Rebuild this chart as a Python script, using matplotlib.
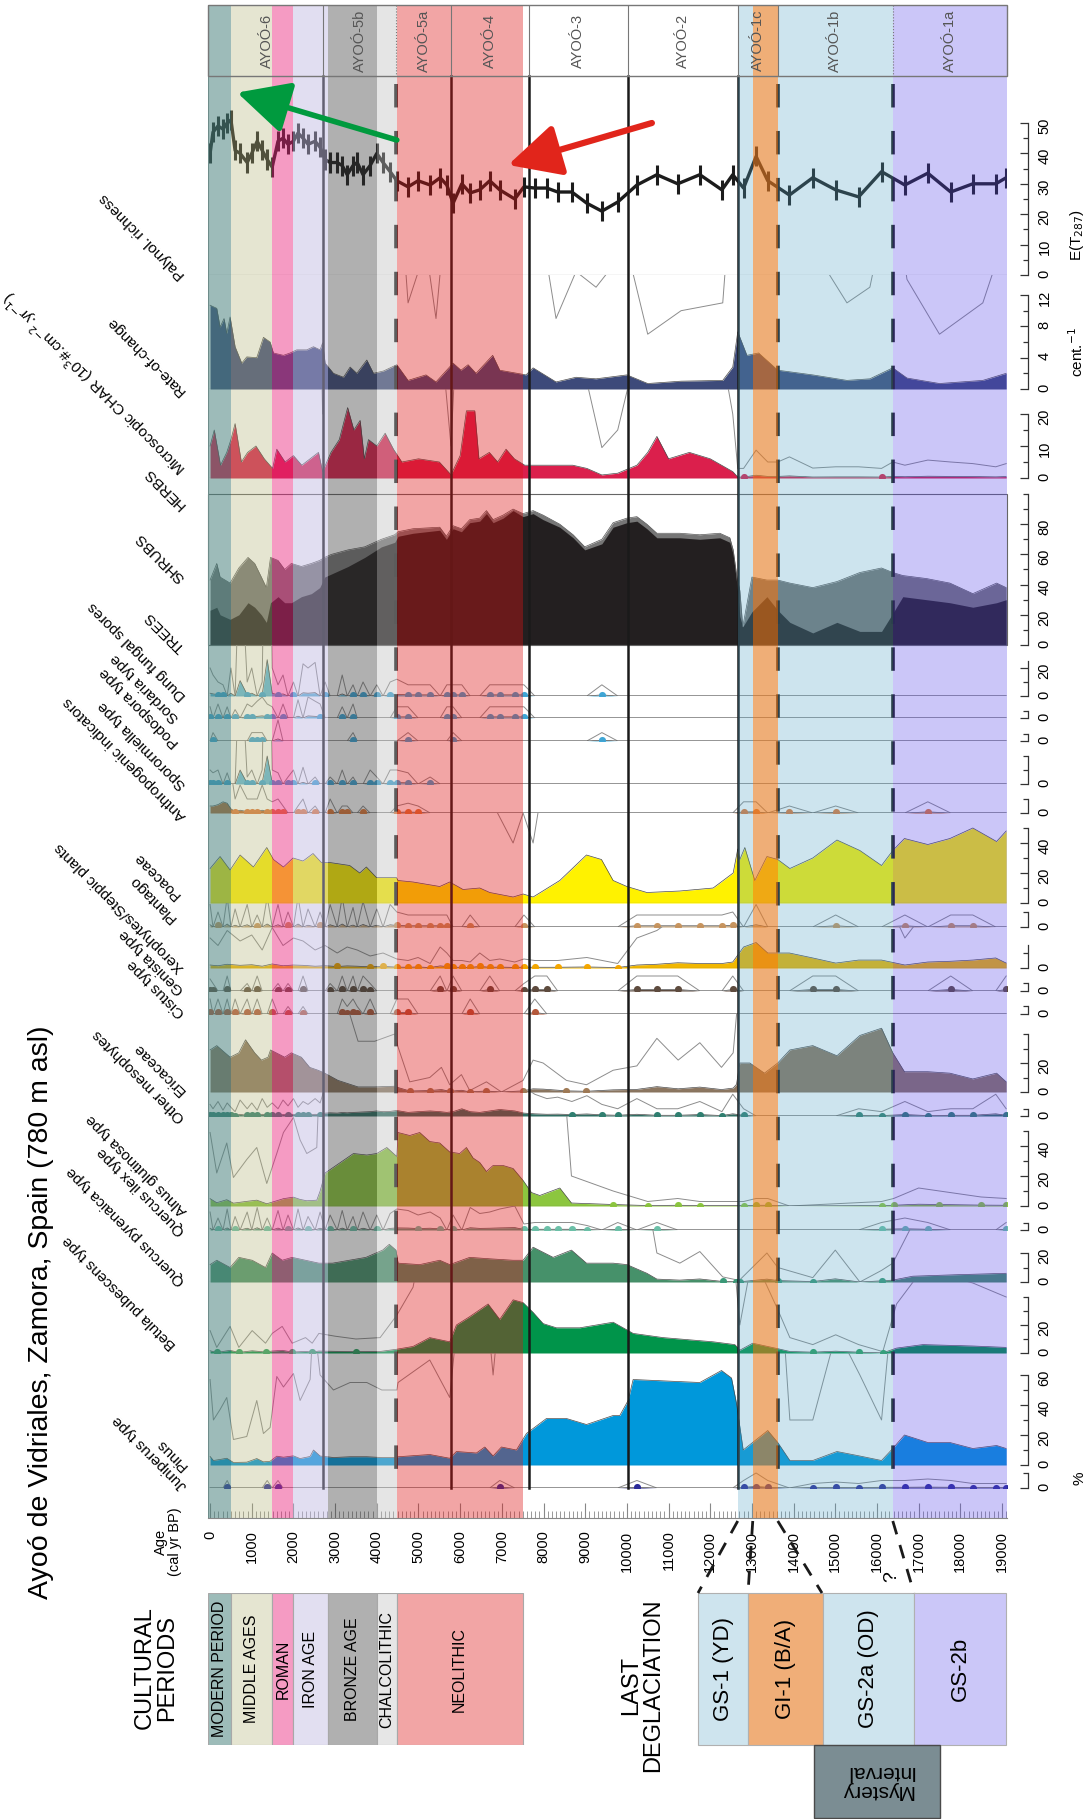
import numpy as np
import matplotlib
matplotlib.use('Agg')
import matplotlib.pyplot as plt
from matplotlib.patches import Rectangle

plt.rcParams['font.family'] = ['Liberation Sans', 'DejaVu Sans']
plt.rcParams['font.size'] = 10

# ---------------- data (ages in cal yr BP) ----------------
ages = np.array([0, 70, 190, 310, 410, 500, 600, 720, 890, 1000,
                 1130, 1250, 1370, 1490, 1630, 1750, 1870, 2000, 2110, 2230,
                 2350, 2520, 2640, 2760, 2880, 3050, 3170, 3290, 3430, 3530,
                 3670, 3840, 4000, 4150, 4320, 4480, 4750, 4990, 5280, 5520,
                 5680, 5830, 6040, 6240, 6470, 6710, 6950, 7310, 7530, 7790,
                 8080, 8340, 8680, 9040, 9400, 9780, 10240, 10720, 11220, 11750,
                 12280, 12540, 12800, 13100, 13380, 13900, 14460, 15010, 15560, 16110,
                 16670, 17220, 17770, 18300, 18850, 19100])
richness = [40, 47, 49, 48, 50, 51, 41, 40, 37, 40,
            44, 41, 38, 35.5, 44, 45, 43, 44, 46.7, 45,
            43, 44, 42, 38, 37, 37, 36, 33, 36, 37,
            33, 36, 40, 37, 34, 31, 29, 31, 29.6, 32,
            29.6, 23.6, 30, 27, 28, 31, 28, 25, 29, 28.6,
            28.6, 27.3, 27.3, 23.6, 21, 24, 29.6, 33, 30, 33,
            28, 33, 28.6, 39, 31, 26.3, 32, 28, 25.7, 34,
            29.6, 33.5, 27.3, 30, 30, 32]

roc_age = [0, 160, 240, 335, 400, 480, 600, 760, 880, 1120,
           1280, 1440, 1520, 1760, 1920, 2080, 2320, 2480, 2640, 2700,
           2760, 2960, 3200, 3360, 3520, 3760, 3920, 4160, 4480, 4750,
           5180, 5420, 5830, 6020, 6190, 6380, 6780, 6950, 7580, 7750,
           8300, 8780, 9260, 10000, 10500, 11300, 12300, 12540, 12660, 12880,
           13160, 13620, 14460, 15280, 15830, 16380, 16720, 17500, 18540, 19100]
roc = [10.7, 10.3, 7.9, 9.0, 7.1, 9.2, 5.4, 3.3, 4.1, 4.0,
       6.6, 6.0, 4.6, 4.3, 4.6, 5.0, 5.0, 5.4, 5.0, 5.9,
       3.3, 2.0, 1.5, 2.8, 2.0, 3.7, 2.0, 2.3, 3.1, 1.1,
       1.8, 0.9, 3.3, 2.4, 3.1, 2.0, 4.3, 2.4, 1.8, 2.7,
       0.9, 1.5, 1.3, 1.8, 0.7, 1.0, 1.1, 2.8, 7.3, 4.3,
       4.6, 2.4, 1.8, 1.1, 1.3, 2.7, 1.4, 0.7, 1.1, 2.0]

char_age = [0, 100, 250, 400, 500, 600, 750, 900, 1100, 1300,
            1500, 1600, 1800, 2000, 2200, 2400, 2600, 2700, 2900, 3100,
            3300, 3450, 3600, 3700, 3800, 4000, 4200, 4400, 4600, 5000,
            5500, 5780, 6000, 6150, 6350, 6450, 6700, 6900, 7100, 7300,
            7550, 8000, 8700, 9040, 9400, 9780, 10240, 10500, 10720, 11000,
            11500, 12000, 12540, 12660, 12800, 13100, 13380, 13620, 13900, 14460,
            15010, 15560, 16110, 16380, 16670, 17220, 17770, 18300, 18850, 19100]
char = [10, 15, 4, 8, 12, 17, 5, 8, 10, 6,
        3, 9, 5, 7, 4, 6, 8, 2, 8, 12,
        22, 15, 18, 6, 12, 10, 14, 9, 5, 6,
        5, 1, 7, 21, 21, 6, 8, 5, 9, 6,
        4, 4, 4, 3, 0.95, 1.5, 4, 8, 13, 6,
        8, 6, 2, 0.3, 0.3, 0.87, 0.5, 0.5, 0.66, 0.31,
        0.35, 0.35, 0.3, 0.5, 0.4, 0.56, 0.5, 0.45, 0.35, 0.45]

veg_age = [0, 160, 240, 480, 690, 910, 1070, 1230, 1350, 1450,
           1630, 1790, 1950, 2190, 2430, 2630, 2750, 2910, 3310, 3710,
           4110, 4430, 4510, 4870, 5510, 5670, 5830, 6030, 6230, 6470,
           6630, 6790, 7030, 7270, 7510, 7750, 7990, 8390, 8710, 8990,
           9400, 9670, 10000, 10240, 10480, 10720, 11270, 11750, 12230, 12470,
           12550, 12640, 12710, 12780, 13000, 13360, 13620, 13910, 14460, 15040,
           15590, 16110, 16380, 16620, 17190, 17750, 18300, 18870, 19100]
trees = [23, 25, 20, 17, 20, 28, 25, 20, 15, 28,
         32, 28, 28, 32, 34, 38, 45, 47, 52, 58,
         65, 68, 72, 74, 76, 70, 77, 75, 81, 82,
         87, 81, 84, 89, 85, 87, 83, 78, 71, 63,
         67, 78, 81, 82, 77, 71, 71, 70, 71, 68,
         60, 40, 19, 12, 22, 32, 23, 15, 8, 15,
         9, 9, 21, 32, 30, 28, 25, 28, 30]
trees_shrubs = [43, 54, 45, 41, 51, 58, 54, 45, 38, 58,
                56, 50, 54, 52, 54, 56, 58, 60, 63, 65,
                70, 73, 75, 77, 78, 72, 79, 77, 83, 84,
                89, 83, 86, 90, 87, 89, 86, 80, 73, 65,
                70, 81, 84, 85, 80, 74, 74, 73, 74, 71,
                63, 45, 36, 12, 45, 43, 43, 41, 38, 42,
                48, 51, 48, 46, 44, 41, 34, 41, 38]

dung_age = [0, 70, 190, 310, 500, 720, 890, 1000, 1250, 1370,
            1490, 1630, 1750, 2000, 2230, 2350, 2520, 2760, 3170, 3430,
            3670, 4000, 4320, 4480, 4750, 4990, 5280, 5680, 5830, 6040,
            6710, 6950, 7310, 7530, 9400]
dung = [2, 1.5, 1, 0.8, 2, 11, 1, 2, 1, 26,
        2, 0.8, 1.5, 1, 2.3, 2.0, 2.4, 1, 1.5, 0.8,
        1, 0.8, 1, 1.2, 0.8, 0.8, 0.8, 0.8, 0.8, 0.8,
        0.8, 0.8, 0.8, 0.8, 0.8]
sordaria_age = [0, 190, 410, 600, 890, 1000, 1130, 1250, 1370, 1490,
                1750, 2110, 2350, 2520, 2640, 3170, 3430, 4480, 4750, 5680,
                5830, 6710, 6950, 7310, 7530]
sordaria = [0.8, 1, 0.8, 0.6, 1, 0.8, 1.2, 1.5, 1, 0.8,
            1, 1.3, 1.5, 1.2, 1, 0.8, 1, 0.8, 0.8, 0.8,
            0.8, 0.8, 0.8, 0.8, 0.8]
podospora_age = [70, 1000, 1130, 1250, 1630, 3430, 4750, 5830, 9400]
podospora = [0.6, 0.6, 0.6, 0.6, 1.5, 0.6, 0.6, 0.6, 0.6]
sporormiella_age = [0, 70, 190, 410, 720, 890, 1000, 1250, 1370, 1490,
                    1630, 1870, 2000, 2230, 2520, 2880, 3170, 3430, 3840, 4000,
                    4320, 4480, 4750, 5280]
sporormiella = [1, 0.8, 1, 0.8, 10, 0.5, 1, 1, 20, 1,
                0.8, 0.5, 1, 1.2, 0.5, 0.5, 1, 0.5, 1, 0.5,
                1, 1, 0.8, 0.5]
anthro_age = [0, 70, 190, 310, 410, 500, 600, 720, 890, 1000,
              1130, 1250, 1370, 1490, 1630, 1750, 2110, 2230, 2520, 2880,
              3170, 3290, 3670, 4480, 4750, 4990, 12800, 13100, 13900, 15010,
              17220]
anthro = [5, 5, 6, 8, 7, 3, 1, 2, 1, 1,
          1, 2, 1, 0.8, 1, 0.5, 0.5, 1, 0.5, 1,
          0.5, 0.5, 0.5, 0.5, 0.7, 0.5, 0.8, 0.8, 0.5, 0.5,
          0.8]

poaceae_age = [0, 240, 480, 720, 1040, 1360, 1520, 1760, 1990, 2230,
               2470, 2670, 2870, 3350, 3590, 3750, 3990, 4470, 4510, 4870,
               5510, 5750, 6070, 6470, 6710, 7270, 7510, 7750, 8390, 9030,
               9390, 9670, 10000, 10480, 11270, 12070, 12550, 12660, 12710, 12830,
               13070, 13360, 13620, 13910, 14460, 15040, 15590, 16110, 16380, 16660,
               17220, 17750, 18300, 18870, 19100]
poaceae = [23, 31, 22, 32, 24, 37, 29, 24, 30, 28,
           33, 27, 27, 25, 20, 24, 17, 17, 15, 14,
           11, 14, 9, 10, 7, 4, 6, 4, 15, 32,
           29, 15, 11, 7, 8, 10, 20, 36, 29, 37,
           15, 31, 29, 23, 30, 42, 35, 25, 35, 43,
           39, 43, 50, 41, 48]
plantago_age = [0, 190, 410, 600, 890, 1130, 1370, 1630, 1870, 2110,
                2350, 2640, 2880, 3170, 3430, 3670, 4000, 4320, 4480, 4750,
                4990, 5280, 5520, 5680, 6240, 7530, 10240, 10720, 11220, 11750,
                12280, 12540, 13100, 15010, 16670, 17770, 18300]
plantago = [1.5, 1, 2, 1.2, 1.5, 0.8, 2, 1.5, 1, 2,
            1.2, 1, 1.5, 2, 1.3, 1.7, 1.2, 1.5, 1, 0.8,
            0.8, 0.8, 0.8, 0.8, 0.8, 0.8, 0.8, 0.8, 0.8, 0.8,
            0.8, 1.0, 1.5, 0.8, 0.8, 0.8, 0.8]
xero_age = [0, 190, 410, 720, 1000, 1250, 1490, 1750, 2000, 2230,
            2520, 2760, 3050, 3290, 3530, 3840, 4150, 4480, 4750, 4990,
            5280, 5520, 5680, 5830, 6040, 6240, 6470, 6710, 6950, 7310,
            7530, 7790, 8340, 9040, 9780, 10240, 10720, 11220, 11750, 12280,
            12540, 12800, 13100, 13380, 13900, 14460, 15010, 15560, 16110, 16670,
            17220, 17770, 18300, 18850, 19100]
xero = [2.0, 1.5, 2.5, 1.8, 2.2, 1.2, 2.7, 1.5, 2.0, 1.8,
        1.2, 1.5, 1.0, 1.4, 1.2, 0.8, 1.0, 0.6, 0.5, 0.7,
        0.3, 1.4, 1.0, 0.5, 0.5, 0.4, 1.0, 0.5, 0.6, 0.4,
        0.6, 0.5, 0.5, 0.7, 0.3, 2, 2.5, 3.5, 3, 3,
        4, 14, 17, 10, 10, 6.7, 3.3, 5.3, 5.3, 2,
        4, 4.5, 5.3, 6.7, 3.3]
genista_age = [0, 70, 410, 890, 1130, 1630, 1870, 2230, 2880, 3170,
               3430, 3670, 3840, 5520, 5830, 6710, 7530, 7790, 8080, 10240,
               10720, 11220, 12540, 14460, 15010, 17770, 19100]
genista = [0.8, 0.5, 1, 0.5, 1, 0.5, 0.5, 1, 0.5, 1,
           1, 1, 0.5, 1, 1, 1, 0.5, 1, 1, 1,
           1, 1, 1, 1, 1, 1, 1]
cistus_age = [0, 190, 410, 600, 890, 1130, 1490, 1870, 2230, 3170,
              3290, 3430, 3530, 3840, 4480, 4750, 6240, 7790]
cistus = [1, 1, 1, 1, 1, 1, 1, 0.5, 0.5, 1,
          0.5, 1, 0.5, 1, 1, 1, 1, 1]

erica_age = [0, 160, 480, 690, 850, 1070, 1230, 1390, 1450, 1790,
             1950, 2190, 2390, 2590, 2750, 3070, 3550, 3950, 4430, 4510,
             4790, 5270, 5550, 5750, 6030, 6230, 6630, 6990, 7510, 7750,
             7990, 8550, 9030, 9670, 10240, 10720, 11230, 11750, 12270, 12550,
             12630, 12710, 12950, 13300, 13620, 13910, 14460, 15040, 15590, 16110,
             16380, 16660, 17220, 17750, 18300, 18870, 19100]
erica = [29, 32, 24, 27, 36, 27, 22, 24, 29, 24,
         27, 24, 17, 15, 13, 8, 3.5, 3.5, 4, 3.1,
         0.7, 1.0, 1.7, 0.5, 1.2, 0.1, 0.7, 0, 0.8, 2.2,
         2.0, 0.8, 0.5, 1.5, 1.8, 3.7, 2.2, 3.4, 1.7, 2.7,
         5.3, 20, 20, 13, 20, 29, 32, 25, 39, 44,
         27, 14, 14, 13, 9, 13, 7]
meso_age = [0, 70, 190, 310, 410, 500, 600, 720, 890, 1000,
            1130, 1250, 1370, 1490, 1630, 1750, 1870, 2000, 2110, 2230,
            2350, 2520, 2640, 2760, 2880, 3050, 3170, 3290, 3430, 3530,
            3670, 3840, 4000, 4150, 4320, 4480, 4750, 4990, 5280, 5520,
            5680, 5830, 6040, 6240, 6470, 6710, 6950, 7310, 7530, 7790,
            8080, 8340, 8680, 9040, 9400, 9780, 10240, 10720, 11220, 11750,
            12280, 12540, 12800, 15560, 16110, 16670, 17220, 17770, 18300, 18850,
            19100]
meso = [0.8, 0.5, 1.0, 0.4, 0.9, 0.6, 0.3, 1.1, 0.5, 0.9,
        0.4, 1.2, 0.6, 0.9, 0.5, 1.1, 0.7, 1.2, 0.6, 1.0,
        0.8, 1.2, 0.9, 2.0, 2.2, 2.0, 2.4, 2.2, 2.5, 2.6,
        2.8, 3.0, 3.5, 3.0, 3.2, 3.8, 2.5, 3.0, 3.5, 3.0,
        2.5, 3.0, 5.0, 3.0, 2.5, 3.5, 4.5, 3.5, 2.0, 1.5,
        1.2, 1.3, 1.0, 1.4, 0.8, 0.5, 1.2, 0.5, 0.5, 1.0,
        0.3, 1.5, 0.5, 0.5, 0.3, 1.0, 0.3, 0.5, 0.5, 1.5,
        0.5]
alnus_age = [0, 160, 400, 560, 880, 1120, 1360, 1600, 1760, 2000,
             2160, 2320, 2560, 2640, 2760, 3440, 3760, 4000, 4240, 4480,
             4510, 4790, 5030, 5270, 5510, 5750, 5990, 6150, 6310, 6470,
             6630, 6790, 7030, 7270, 7510, 7710, 7910, 8390, 8670, 9670,
             10500, 11220, 11750, 12800, 13100, 13380, 13900, 16110, 16400, 17000,
             17500, 18500, 19100]
alnus = [4.9, 2.2, 4.2, 1.9, 3.1, 3.9, 1.5, 3.5, 4.9, 5.9,
         4.4, 3.5, 3.9, 10, 22, 35, 34, 35, 39, 33,
         49, 47, 49, 43, 42, 36, 35, 39, 32, 29,
         23, 27, 27, 25, 17, 9, 7, 12, 2, 1,
         0.3, 0.5, 0.3, 0.3, 0.5, 0.5, 0, 0.3, 0.5, 1.2,
         1.0, 0.6, 0.5]
qilex_age = [0, 190, 410, 600, 890, 1130, 1370, 1630, 1870, 2110,
             2350, 2640, 2880, 3170, 3430, 3670, 4000, 4320, 4480, 4750,
             4990, 5280, 5520, 5830, 6240, 6470, 6710, 6950, 7310, 7530,
             7790, 8080, 8340, 8680, 9040, 9780, 10720, 16110, 16670, 17220,
             19100]
qilex = [1.2, 0.8, 1.4, 0.9, 1.2, 1.5, 0.8, 1.3, 1.0, 1.4,
         0.9, 1.2, 1.0, 1.3, 0.9, 1.2, 1.0, 1.1, 1.4, 1.3,
         1.0, 1.2, 0.8, 1.0, 1.5, 1.1, 1.2, 1.4, 1.6, 0.4,
         0.5, 0.5, 0.5, 0.5, 0.3, 0.5, 0.5, 0.5, 0.8, 0.5,
         0.5]
qpyr_age = [0, 160, 480, 690, 1010, 1330, 1490, 1730, 1970, 2290,
            2610, 2940, 3340, 3740, 4140, 4300, 4460, 4510, 5030, 5510,
            5750, 6230, 6710, 7270, 7510, 7750, 8230, 8670, 9030, 9670,
            10000, 10480, 10720, 11270, 11750, 12300, 12630, 12710, 13360, 13620,
            14460, 15000, 15590, 16110, 16380, 16860, 17880, 19100]
qpyr = [12, 15, 10, 17, 15, 10, 20, 15, 17, 15,
        13, 13, 15, 17, 22, 26, 22, 13, 12, 15,
        12, 17, 16, 15, 15, 24, 17, 22, 13, 13,
        12, 6, 2.0, 1.3, 2.1, 0.35, 0.15, 0.15, 2.0, 1.0,
        0.3, 2.2, 0, 0.8, 1.3, 4, 5, 6]
betula_age = [0, 160, 480, 690, 1010, 1330, 1490, 1730, 1970, 2290,
              2450, 2610, 3000, 3500, 4080, 4480, 4870, 5270, 5750, 5910,
              6230, 6670, 6950, 7270, 7510, 7750, 7990, 8310, 8870, 9670,
              10150, 10870, 12070, 12590, 12710, 13020, 13620, 13910, 14460, 15010,
              15560, 16140, 16470, 17100, 18300, 19100]
betula = [1.6, 0.4, 1.9, 0.4, 1.6, 0.7, 1.4, 1.9, 0.7, 1.1,
          0.7, 1.4, 1.2, 1.0, 1.1, 2.7, 4.7, 11, 8, 20,
          26, 35, 24, 38, 36, 29, 21, 18, 18, 22,
          14, 11, 8, 6, 2, 7, 3.1, 1.1, 0.6, 1.3,
          0.6, 0.1, 3.5, 6, 5, 4]
pinus_age = [0, 80, 240, 400, 560, 880, 1120, 1280, 1440, 1600,
             1760, 2000, 2160, 2400, 2480, 2640, 2960, 3360, 3760, 4120,
             4480, 4510, 5270, 5750, 5910, 6390, 6590, 6790, 6990, 7350,
             7590, 8070, 8550, 9030, 9670, 9830, 10030, 10150, 10950, 11750,
             12270, 12510, 12630, 12790, 13380, 13620, 13910, 14460, 15040, 15590,
             16110, 16380, 16660, 17220, 17750, 18300, 18870, 19100]
pinus = [5.7, 3.0, 3.7, 4.5, 1.7, 1.9, 4.3, 2.1, 2.5, 5.9,
         5.2, 6.1, 4.3, 5.7, 10, 6, 5, 5.5, 5.5, 5,
         5, 5.5, 7, 4.5, 9, 8, 12, 6, 12, 10,
         21, 31, 31, 27, 33, 33, 43, 57, 56, 55,
         63, 58, 41, 10, 23, 15, 3, 3, 9, 6,
         3, 11, 20, 15, 15, 11, 13, 11]
juniperus_age = [410, 1370, 1630, 6950, 10240, 12800, 13100, 13380, 14460, 15010,
                 15560, 16110, 16670, 17220, 17770, 18300, 18850, 19100]
juniperus = [0.5, 0.5, 0.5, 0.5, 0.5, 0.5, 1.0, 0.5, 0.3, 0.4,
             0.3, 0.5, 0.5, 0.6, 0.5, 0.3, 0.3, 0.3]

# cultural periods and late-glacial events
periods = ['MODERN PERIOD', 'MIDDLE AGES', 'ROMAN', 'IRON AGE', 'BRONZE AGE',
           'CHALCOLITHIC', 'NEOLITHIC']
period_edges = [-50, 500, 1490, 2000, 2830, 4000, 4480, 7500]
period_rgb = [(74, 130, 126), (180, 180, 122), (233, 33, 122), (190, 183, 224),
              (52, 52, 52), (192, 192, 192), (221, 19, 19)]
period_alpha = [0.54, 0.345, 0.45, 0.447, 0.39, 0.40, 0.38]
events = ['GS-1 (YD)', 'GI-1 (B/A)', 'GS-2a (OD)', 'GS-2b']
event_edges = [12660, 13020, 13620, 16380, 19120]
event_rgb = [(85, 163, 197), (230, 123, 33), (85, 163, 197), (83, 67, 233)]
event_alpha = [0.29, 0.61, 0.29, 0.30]

zones = ['AYOÓ-6', 'AYOÓ-5b', 'AYOÓ-5a', 'AYOÓ-4', 'AYOÓ-3', 'AYOÓ-2',
         'AYOÓ-1c', 'AYOÓ-1b', 'AYOÓ-1a']
zone_edges = [0, 2710, 4460, 5780, 7650, 10020, 12660, 13620, 16380, 19120]
zone_dashed = [4460, 13620, 16380]

# ---------------- layout ----------------
W, H = 1088, 1819
X0, X1 = 208, 1007
AGE_MIN, AGE_MAX = -50, 19120

fig = plt.figure(figsize=(W / 100, H / 100), dpi=100)


def px_axes(y0, y1, x0=X0, x1=X1):
    ax = fig.add_axes([x0 / W, 1 - y1 / H, (x1 - x0) / W, (y1 - y0) / H])
    ax.patch.set_alpha(0)
    return ax


def panel(y_top, y_zero, ppu, spine_top, major, minor):
    ax = px_axes(y_top, y_zero)
    ax.set_xlim(AGE_MIN, AGE_MAX)
    ax.set_ylim(0, (y_zero - y_top) / ppu)
    ax.set_xticks([])
    for s in ('left', 'top', 'bottom'):
        ax.spines[s].set_visible(False)
    sp = ax.spines['right']
    sp.set_position(('outward', 15))
    sp.set_bounds(0, spine_top)
    sp.set_color('#333333')
    sp.set_linewidth(0.9)
    ax.yaxis.tick_right()
    ax.set_yticks(major)
    ax.set_yticks(minor, minor=True)
    ax.tick_params(axis='y', which='both', direction='in', color='#333333',
                   width=0.9, labelsize=10.5, labelrotation=90, pad=7)
    ax.tick_params(axis='y', which='major', length=6)
    ax.tick_params(axis='y', which='minor', length=3.5)
    ax.axhline(0, color='#555555', lw=0.8, zorder=5)
    return ax


def on_samples(occ_age, occ_val):
    v = np.zeros(len(ages))
    for a, x in zip(occ_age, occ_val):
        v[np.argmin(np.abs(ages - a))] = x
    return v


def curve(ax, x, y, color, dot=None, exag=10):
    x = np.asarray(x, float)
    y = np.asarray(y, float)
    if exag:
        ax.plot(x, y * exag, color='#8c8c8c', lw=0.7, zorder=1)
    ax.fill_between(x, 0, y, color=color, lw=0, zorder=2)
    ax.plot(x, y, color='#4a4a4a', lw=0.5, zorder=3)
    if dot:
        m = (y > 0) & (y <= 1)
        ax.scatter(x[m], y[m], s=26, color=dot, lw=0, zorder=4)


# palynological richness
ax_rich = panel(76, 275, 3.04, 50, [0, 10, 20, 30, 40, 50], [5, 15, 25, 35, 45])
ax_rich.errorbar(ages, richness, yerr=3.3, color='#1c1c1c', lw=2.4,
                 elinewidth=2.2, capsize=0)

ax = panel(275, 389, 7.83, 12, [0, 4, 8, 12], [2, 6, 10])
curve(ax, roc_age, roc, '#3d4a7a')

ax = panel(389, 478, 3.2, 20, [0, 10, 20], [5, 15])
curve(ax, char_age, char, '#db1f4c')
ax.scatter([12800, 16110], [0.3, 0.3], s=26, color='#db1f4c', lw=0, zorder=4)

# trees / shrubs / herbs
ax = panel(494, 645, 1.51, 100, [0, 20, 40, 60, 80], [10, 30, 50, 70, 90, 100])
ax.fill_between(veg_age, 0, trees_shrubs, color='#767676', lw=0)
ax.plot(veg_age, trees_shrubs, color='#555555', lw=0.5)
ax.fill_between(veg_age, 0, trees, color='#231f20', lw=0)
ax.add_patch(Rectangle((0, 0), 1, 1, transform=ax.transAxes, fill=False,
                       ec='#666666', lw=0.8, clip_on=False))

ax = panel(645, 696, 1.4, 25, [0, 20], [10])
curve(ax, ages, on_samples(dung_age, dung), '#5fb8db', '#3fa6d6')
ax = panel(696, 718, 1.4, 5, [0], [5])
curve(ax, ages, on_samples(sordaria_age, sordaria), '#5fb8db', '#3fa6d6')
ax = panel(718, 741, 1.4, 5, [0], [5])
curve(ax, ages, on_samples(podospora_age, podospora), '#5fb8db', '#3fa6d6')
ax = panel(741, 784, 1.4, 20, [0], [10, 20])
curve(ax, ages, on_samples(sporormiella_age, sporormiella), '#5fb8db', '#3fa6d6')
ax = panel(784, 813, 1.4, 10, [0], [10])
curve(ax, ages, on_samples(anthro_age, anthro), '#c0692c', '#e07a3a')

ax = panel(813, 903, 1.5, 50, [0, 20, 40], [10, 30, 50])
curve(ax, poaceae_age, poaceae, '#fff200')
ax = panel(903, 927, 1.5, 10, [0], [10])
curve(ax, ages, on_samples(plantago_age, plantago), '#c9a77c', '#c8955f')
ax = panel(927, 968, 1.5, 15, [0], [10])
curve(ax, xero_age, xero, '#f1b700', '#f5a800')
ax = panel(968, 991, 1.5, 5, [0], [5])
curve(ax, ages, on_samples(genista_age, genista), '#5e4b3e', '#5e4b3e')
ax = panel(991, 1014, 1.5, 5, [0], [5])
curve(ax, ages, on_samples(cistus_age, cistus), '#b5583a', '#b5583a')

ax = panel(1014, 1092, 1.45, 40, [0, 20], [10, 30, 40])
curve(ax, erica_age, erica, '#8c7660', '#a07a55')
ax = panel(1092, 1116, 1.45, 5, [0], [5])
curve(ax, ages, on_samples(meso_age, meso), '#2f6f63', '#2f7f70')
ax = panel(1116, 1206, 1.5, 50, [0, 20, 40], [10, 30, 50])
curve(ax, alnus_age, alnus, '#8cc63f', '#8cc63f')
ax = panel(1206, 1230, 1.5, 5, [0], [5])
curve(ax, ages, on_samples(qilex_age, qilex), '#5f9f86', '#6cc0a8')
ax = panel(1230, 1282, 1.45, 20, [0, 20], [10])
curve(ax, qpyr_age, qpyr, '#46916a', '#3a9a78')
ax = panel(1282, 1353, 1.4, 40, [0, 20], [10, 30, 40])
curve(ax, betula_age, betula, '#00944a', '#2aa060')
ax = panel(1353, 1465, 1.5, 60, [0, 20, 40, 60], [10, 30, 50])
curve(ax, pinus_age, pinus, '#0098db')
ax = panel(1465, 1488, 1.5, 10, [0], [10])
curve(ax, ages, on_samples(juniperus_age, juniperus), '#23237d', '#2b2b9a')

# ---------------- zone lines, shaded periods, age axis ----------------
ax_b = px_axes(5, 1518)
ax_b.set_xlim(AGE_MIN, AGE_MAX)
ax_b.set_ylim(1518, 5)
ax_b.set_yticks([])
for s in ('left', 'top', 'right'):
    ax_b.spines[s].set_visible(False)
ax_b.spines['bottom'].set_color('#888888')
ax_b.set_xticks(np.arange(0, 19001, 1000))
ax_b.set_xticks(np.arange(0, 19101, 100), minor=True)
ax_b.tick_params(axis='x', which='both', direction='in', color='#888888',
                 labelsize=10.5, labelrotation=90, pad=9)
ax_b.tick_params(axis='x', which='major', length=11)
ax_b.tick_params(axis='x', which='minor', length=5)

for a in zone_edges[1:-1]:
    if a in zone_dashed:
        ax_b.plot([a, a], [84, 1488], color='#1a1a1a', lw=2.6,
                  ls=(0, (6.5, 6.5)), zorder=1)
    else:
        ax_b.plot([a, a], [76, 1488], color='#1a1a1a', lw=1.8, zorder=1)
    ax_b.plot([a, a], [5, 76], color='#777777', lw=0.8,
              ls=':' if a in zone_dashed[::2] else '-', zorder=3)
ax_b.axvline(AGE_MIN, color='#999999', lw=0.8)

for i in range(len(periods)):
    ax_b.axvspan(period_edges[i], period_edges[i + 1],
                 color=np.array(period_rgb[i]) / 255, alpha=period_alpha[i],
                 lw=0, zorder=2)
for i in range(len(events)):
    ax_b.axvspan(event_edges[i], event_edges[i + 1],
                 color=np.array(event_rgb[i]) / 255, alpha=event_alpha[i],
                 lw=0, zorder=2)

ax_b.add_patch(Rectangle((AGE_MIN, 5), AGE_MAX - AGE_MIN, 71, fill=False,
                         ec='#777777', lw=1, zorder=3, clip_on=False))
for i, z in enumerate(zones):
    mid = (zone_edges[i] + zone_edges[i + 1]) / 2
    ax_b.text(mid, 40.5, z, rotation=90, ha='center', va='center',
              color='#555555', fontsize=10.5, zorder=3)


# ---------------- cultural periods ----------------
def over_white(rgb, a):
    return tuple((a * np.array(rgb) + (1 - a) * 255) / 255)


ax_c = px_axes(1593, 1745)
ax_c.set_xlim(AGE_MIN, AGE_MAX)
ax_c.set_ylim(0, 1)
ax_c.axis('off')
for i, name in enumerate(periods):
    ax_c.axvspan(period_edges[i], period_edges[i + 1],
                 fc=over_white(period_rgb[i], period_alpha[i]),
                 ec='#a8a8a8', lw=0.8)
    ax_c.text((period_edges[i] + period_edges[i + 1]) / 2, 0.5, name,
              rotation=90, ha='center', va='center', fontsize=11.5)

# ---------------- free text, legend boxes, arrows ----------------
ax_t = fig.add_axes([0, 0, 1, 1])
ax_t.set_xlim(0, W)
ax_t.set_ylim(H, 0)
ax_t.axis('off')
ax_t.patch.set_alpha(0)

ax_t.text(41, 1312, 'Ayoó de Vidriales, Zamora, Spain (780 m asl)', rotation=90,
          ha='center', va='center', fontsize=20.5)
ax_t.text(168, 1542, 'Age\n(cal yr BP)', rotation=90, ha='center', va='center',
          fontsize=10.5, multialignment='center', linespacing=1.0)
ax_t.text(156, 1668, 'CULTURAL\nPERIODS', rotation=90, ha='center', va='center',
          fontsize=17, multialignment='center', linespacing=1.0)
ax_t.text(642, 1685, 'LAST\nDEGLACIATION', rotation=90, ha='center',
          va='center', fontsize=17, multialignment='center', linespacing=1.0)
ax_t.text(1077, 235, 'E(T$_{287}$)', rotation=90, ha='center', va='center',
          fontsize=11)
ax_t.text(1077, 352, 'cent.$^{-1}$', rotation=90, ha='center', va='center',
          fontsize=11)
ax_t.text(1080, 1478, '%', rotation=90, ha='center', va='center', fontsize=11)

labels = [('Palynol. richness', 183, 277), ('Rate-of-change', 183, 393),
          ('Microscopic CHAR (10$^3$#.cm$^{-2}$.yr$^{-1}$)', 183, 472),
          ('HERBS', 183, 507), ('SHRUBS', 183, 580), ('TREES', 183, 650),
          ('Dung fungal spores', 184, 698), ('Sordaria type', 177, 720),
          ('Podospora type', 177, 745), ('Sporormiella type', 184, 787),
          ('Anthropogenic indicators', 184, 818), ('Poaceae', 178, 897),
          ('Plantago', 174, 920), ('Xerophytes/Steppic plants', 182, 970),
          ('Genista type', 182, 992), ('Cistus type', 183, 1015),
          ('Ericaceae', 183, 1093), ('Other mesophytes', 183, 1120),
          ('Alnus glutinosa type', 185, 1213), ('Quercus ilex type', 183, 1233),
          ('Quercus pyrenaica type', 183, 1283),
          ('Betula pubescens type', 174, 1347), ('Pinus', 185, 1468),
          ('Juniperus type', 185, 1488)]
for txt, x, y in labels:
    ax_t.text(x, y, txt, rotation=135, rotation_mode='anchor', ha='left',
              va='center', fontsize=11)

# late-glacial event boxes
box_x = [698, 748, 823, 914, 1006]
for i, name in enumerate(events):
    ax_t.add_patch(Rectangle((box_x[i], 1593), box_x[i + 1] - box_x[i], 152,
                             fc=over_white(event_rgb[i], event_alpha[i]),
                             ec='#b0b0b0', lw=0.8))
    ax_t.text((box_x[i] + box_x[i + 1]) / 2, 1669, name, rotation=90,
              ha='center', va='center', fontsize=16)
ax_t.add_patch(Rectangle((814, 1745), 126, 73, fc='#7b8d93', ec='#4a4a4a', lw=1))
ax_t.text(877, 1781, 'Mystery\nInterval', rotation=180, ha='center',
          va='center', fontsize=15, multialignment='left', linespacing=1.0)

for a, xb in zip(event_edges[:-1], [698, 748, 822, 914]):
    xa = X0 + (a - AGE_MIN) / (AGE_MAX - AGE_MIN) * (X1 - X0)
    ax_t.plot([xa, xb], [1521, 1593], color='#1a1a1a', lw=2, ls=(0, (5, 4)))
ax_t.text(892, 1577, '?', rotation=90, ha='center', va='center', fontsize=14)

ax_t.annotate('', xy=(650, 60), xycoords=ax_rich.transData,
              xytext=(4480, 44.4), textcoords=ax_rich.transData,
              arrowprops=dict(arrowstyle='-|>,head_length=0.8,head_width=0.4',
                              color='#009a3e', lw=4, mutation_scale=40,
                              shrinkA=0, shrinkB=0))
ax_t.annotate('', xy=(7150, 36.2), xycoords=ax_rich.transData,
              xytext=(10600, 50), textcoords=ax_rich.transData,
              arrowprops=dict(arrowstyle='-|>,head_length=0.8,head_width=0.4',
                              color='#e1251b', lw=4.5, mutation_scale=40,
                              shrinkA=0, shrinkB=0))

fig.savefig('out.png', dpi=100)
